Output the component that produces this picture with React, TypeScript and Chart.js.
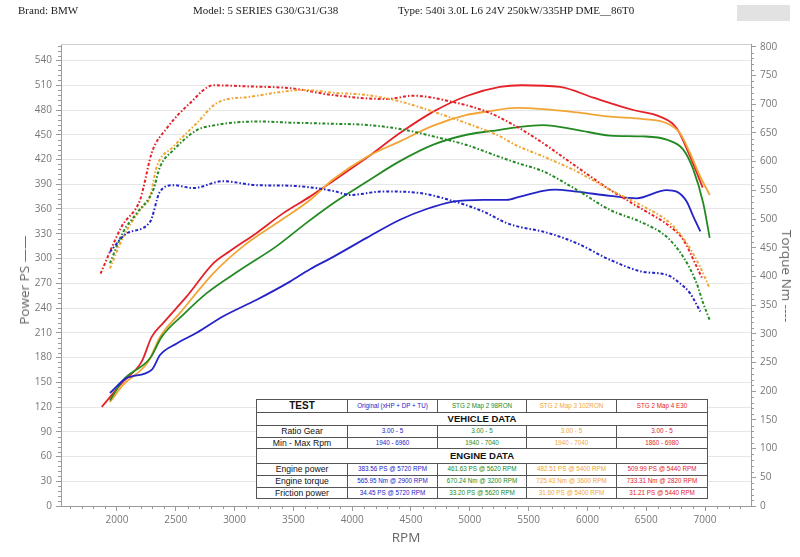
import React, { useEffect, useRef } from "react";
import { Chart, registerables } from "chart.js";

Chart.register(...registerables);

// ---------- data ----------
const xTicks = [2000, 2500, 3000, 3500, 4000, 4500, 5000, 5500, 6000, 6500, 7000];
const powerTicks = [0, 30, 60, 90, 120, 150, 180, 210, 240, 270, 300, 330, 360, 390, 420, 450, 480, 510, 540];
const torqueTicks = [0, 50, 100, 150, 200, 250, 300, 350, 400, 450, 500, 550, 600, 650, 700, 750, 800];

const seriesNames = ["Original (xHP + DP + TU)", "STG 2 Map 2 98RON", "STG 2 Map 3 102RON", "STG 2 Map 4 E30"];

// Original (blue)
const origPowerRpm = [1940, 2082, 2295, 2366, 2508, 2678, 2904, 3188, 3471, 3641, 3839, 4123, 4406, 4633, 4860, 5115, 5314, 5427, 5625, 5720, 5909, 6192, 6419, 6674, 6759, 6844, 6900, 6960];
const origPower = [137, 155, 165, 183, 197, 210, 230, 250, 272, 287, 302, 325, 347, 360, 369, 371, 371, 375, 382, 383.5, 381, 376, 373, 383, 381, 369, 351, 333];
const origTorqueRpm = [1940, 2082, 2281, 2366, 2479, 2649, 2900, 3188, 3471, 3839, 3981, 4264, 4548, 4832, 5115, 5314, 5427, 5625, 5909, 6192, 6475, 6674, 6787, 6872, 6960];
const origTorque = [443, 475, 495, 548, 559, 554, 566, 559, 558, 549, 542, 548, 546, 533, 513, 493, 486, 478, 458, 429, 408, 403, 388, 371, 339];

// STG 2 Map 2 98RON (green)
const map2PowerRpm = [1940, 2054, 2281, 2380, 2564, 2763, 3046, 3358, 3600, 3839, 4123, 4406, 4690, 4973, 5257, 5400, 5620, 5909, 6192, 6475, 6674, 6815, 6900, 6985, 7040];
const map2Power = [128, 153, 179, 205, 232, 258, 286, 315, 342, 367, 393, 418, 438, 450, 456, 459, 461.6, 456, 449, 448, 444, 432, 408, 367, 325];
const map2TorqueRpm = [1940, 2054, 2167, 2309, 2366, 2479, 2678, 2791, 3200, 3471, 3839, 4123, 4406, 4690, 4973, 5257, 5399, 5625, 5909, 6192, 6475, 6674, 6815, 6929, 6985, 7040];
const map2Torque = [423, 478, 510, 551, 591, 620, 655, 662, 670, 668, 666, 664, 657, 644, 629, 608, 598, 583, 551, 516, 493, 469, 434, 388, 353, 324];

// STG 2 Map 3 102RON (orange)
const map3PowerRpm = [1940, 2054, 2266, 2366, 2536, 2819, 3074, 3358, 3641, 3839, 4123, 4406, 4690, 4973, 5144, 5400, 5625, 5909, 6192, 6475, 6674, 6787, 6872, 6957, 7040];
const map3Power = [126, 147, 175, 205, 234, 282, 315, 343, 371, 396, 423, 442, 461, 474, 478, 482.5, 481, 477, 472, 469, 464, 452, 428, 400, 377];
const map3TorqueRpm = [1940, 2054, 2196, 2281, 2338, 2479, 2678, 2848, 3131, 3600, 3839, 4123, 4406, 4690, 4973, 5257, 5399, 5625, 5909, 6192, 6475, 6702, 6844, 6957, 7040];
const map3Torque = [414, 469, 516, 539, 591, 626, 667, 702, 713, 725, 720, 716, 705, 687, 667, 644, 628, 609, 583, 551, 522, 493, 458, 417, 379];

// STG 2 Map 4 E30 (red)
const map4PowerRpm = [1870, 2054, 2210, 2295, 2394, 2593, 2819, 2961, 3188, 3414, 3641, 3839, 4123, 4406, 4690, 4973, 5257, 5440, 5767, 6050, 6390, 6617, 6759, 6872, 6980];
const map4Power = [120, 151, 175, 205, 222, 254, 294, 309, 331, 355, 375, 394, 422, 452, 478, 497, 508, 510, 508, 495, 480, 472, 458, 424, 386];
const map4TorqueRpm = [1860, 2040, 2196, 2224, 2295, 2423, 2621, 2820, 3131, 3471, 3839, 4293, 4519, 4832, 5144, 5399, 5625, 5909, 6192, 6475, 6702, 6815, 6929, 6980];
const map4Torque = [405, 487, 533, 554, 615, 658, 702, 733, 731, 728, 716, 709, 715, 705, 687, 661, 632, 591, 551, 516, 487, 464, 417, 395];

// table texts
const ratioGear = ["3.00 - 5", "3.00 - 5", "3.00 - 5", "3.00 - 5"];
const rpmRange = ["1940 - 6960", "1940 - 7040", "1940 - 7040", "1860 - 6980"];
const enginePower = ["383.56 PS @ 5720 RPM", "461.63 PS @ 5620 RPM", "482.51 PS @ 5400 RPM", "509.99 PS @ 5440 RPM"];
const engineTorque = ["565.95 Nm @ 2900 RPM", "670.24 Nm @ 3200 RPM", "725.43 Nm @ 3600 RPM", "733.31 Nm @ 2820 RPM"];
const frictionPower = ["34.45 PS @ 5720 RPM", "33.20 PS @ 5620 RPM", "31.60 PS @ 5400 RPM", "31.21 PS @ 5440 RPM"];

// ---------- style ----------
const COLORS = ["#2323c8", "#238a23", "#f2a535", "#e42228"];
const AXIS = "#9a9a9a";
const LABEL = "#777";
const TICK_FONT = { family: "'Open Sans', 'DejaVu Sans', sans-serif", size: 10 };
const plain = (v: any) => String(v);

function line(label: string, rpm: number[], vals: number[], color: string, axis: string, dashed: boolean) {
  return {
    label,
    data: rpm.map((r, i) => ({ x: r, y: vals[i] })),
    borderColor: color,
    backgroundColor: color,
    borderWidth: dashed ? 2 : 1.8,
    borderDash: dashed ? [3, 2, 1.5, 2] : [],
    pointRadius: 0,
    yAxisID: axis,
    cubicInterpolationMode: "monotone" as const,
    fill: false,
  };
}

const minorTicks = {
  id: "minorTicks",
  afterDraw(chart: any) {
    const ctx = chart.ctx;
    const { left, right, top, bottom } = chart.chartArea;
    const x = chart.scales.x, yl = chart.scales.yL, yr = chart.scales.yR;
    ctx.save();
    ctx.strokeStyle = "#d0d0d0";
    ctx.lineWidth = 1;
    ctx.beginPath();
    ctx.moveTo(left, top + 0.5);
    ctx.lineTo(right, top + 0.5);
    ctx.stroke();
    ctx.strokeStyle = AXIS;
    ctx.beginPath();
    for (let v = 6; v < 560; v += 6) {
      if (v % 30 === 0) continue;
      const y = Math.round(yl.getPixelForValue(v)) + 0.5;
      ctx.moveTo(left - 3, y);
      ctx.lineTo(left, y);
    }
    for (let v = 10; v < 805; v += 10) {
      if (v % 50 === 0) continue;
      const y = Math.round(yr.getPixelForValue(v)) + 0.5;
      ctx.moveTo(right, y);
      ctx.lineTo(right + 3, y);
    }
    for (let v = 1600; v < 7400; v += 100) {
      if (v % 500 === 0) continue;
      const px = Math.round(x.getPixelForValue(v)) + 0.5;
      ctx.moveTo(px, bottom);
      ctx.lineTo(px, bottom + 3);
    }
    ctx.stroke();
    ctx.restore();
  },
};

export default function App() {
  const ref = useRef<HTMLCanvasElement>(null);

  useEffect(() => {
    if (!ref.current) return;
    const datasets = [
      line(seriesNames[0] + " torque", origTorqueRpm, origTorque, COLORS[0], "yR", true),
      line(seriesNames[1] + " torque", map2TorqueRpm, map2Torque, COLORS[1], "yR", true),
      line(seriesNames[2] + " torque", map3TorqueRpm, map3Torque, COLORS[2], "yR", true),
      line(seriesNames[3] + " torque", map4TorqueRpm, map4Torque, COLORS[3], "yR", true),
      line(seriesNames[0] + " power", origPowerRpm, origPower, COLORS[0], "yL", false),
      line(seriesNames[1] + " power", map2PowerRpm, map2Power, COLORS[1], "yL", false),
      line(seriesNames[2] + " power", map3PowerRpm, map3Power, COLORS[2], "yL", false),
      line(seriesNames[3] + " power", map4PowerRpm, map4Power, COLORS[3], "yL", false),
    ];
    const chart = new Chart(ref.current, {
      type: "line",
      data: { datasets },
      plugins: [minorTicks],
      options: {
        animation: false,
        responsive: false,
        parsing: true,
        layout: { padding: { top: 44, left: 0, right: 0, bottom: 0 } },
        plugins: { legend: { display: false }, tooltip: { enabled: false }, title: { display: false } },
        scales: {
          x: {
            type: "linear",
            min: 1524,
            max: 7391,
            afterBuildTicks: (s: any) => { s.ticks = xTicks.map((v) => ({ value: v })); },
            afterFit: (s: any) => { s.height = 51; },
            grid: { drawOnChartArea: false, drawTicks: true, tickLength: 5, tickColor: AXIS, color: AXIS },
            border: { display: true, color: AXIS },
            ticks: { color: LABEL, font: TICK_FONT, padding: 3, maxRotation: 0, autoSkip: false, callback: plain },
          },
          yL: {
            type: "linear",
            position: "left",
            min: 0,
            max: 560,
            afterBuildTicks: (s: any) => { s.ticks = powerTicks.map((v) => ({ value: v })); },
            afterFit: (s: any) => { s.width = 61; },
            grid: { color: "#e6e6e6", drawTicks: true, tickLength: 5, tickColor: AXIS },
            border: { display: true, color: AXIS },
            ticks: { color: LABEL, font: TICK_FONT, padding: 4, autoSkip: false, callback: plain },
          },
          yR: {
            type: "linear",
            position: "right",
            min: 0,
            max: 805,
            afterBuildTicks: (s: any) => { s.ticks = torqueTicks.map((v) => ({ value: v })); },
            afterFit: (s: any) => { s.width = 49; },
            grid: { drawOnChartArea: false, drawTicks: true, tickLength: 5, tickColor: AXIS },
            border: { display: true, color: AXIS },
            ticks: { color: LABEL, font: TICK_FONT, padding: 4, autoSkip: false, callback: plain },
          },
        },
      } as any,
    });
    return () => chart.destroy();
  }, []);

  const serif = "'Liberation Serif', 'DejaVu Serif', serif";
  const sans = "'Liberation Sans', Arial, sans-serif";
  const titleFont = "'Open Sans', 'DejaVu Sans', sans-serif";
  const bd = "1px solid #555";
  const cell = (extra: any = {}) => ({ border: bd, padding: 0, textAlign: "center" as const, lineHeight: 1, overflow: "hidden", whiteSpace: "nowrap" as const, ...extra });
  const valCell = (i: number) => cell({ color: COLORS[i], fontSize: 6.3 });
  const labCell = cell({ fontSize: 8.6, color: "#111" });
  const rows: [string, string[], number][] = [
    ["Engine power", enginePower, 12],
    ["Engine torque", engineTorque, 12],
    ["Friction power", frictionPower, 11],
  ];

  return (
    <div style={{ position: "absolute", left: 0, top: 0, width: 800, height: 557, background: "#fff", overflow: "hidden" }}>
      <canvas ref={ref} width={800} height={557} style={{ position: "absolute", left: 0, top: 0, width: 800, height: 557 }} />
      <div style={{ position: "absolute", left: 18, top: 4, fontFamily: serif, fontSize: 11, color: "#222", whiteSpace: "nowrap" }}>Brand: BMW</div>
      <div style={{ position: "absolute", left: 193, top: 4, fontFamily: serif, fontSize: 11, color: "#222", whiteSpace: "nowrap" }}>Model: 5 SERIES G30/G31/G38</div>
      <div style={{ position: "absolute", left: 398, top: 4, fontFamily: serif, fontSize: 11, color: "#222", whiteSpace: "nowrap" }}>Type: 540i 3.0L L6 24V 250kW/335HP DME__86T0</div>
      <div style={{ position: "absolute", left: 737, top: 5, width: 53, height: 16, background: "#e2e2e2" }} />
      <div style={{ position: "absolute", left: 24, top: 280, transform: "translate(-50%, -50%) rotate(-90deg)", fontFamily: titleFont, fontSize: 13.5, color: "#666", whiteSpace: "nowrap" }}>Power PS ——</div>
      <div style={{ position: "absolute", left: 787, top: 276, transform: "translate(-50%, -50%) rotate(90deg)", fontFamily: titleFont, fontSize: 13.5, color: "#666", whiteSpace: "nowrap" }}>Torque Nm ----</div>
      <div style={{ position: "absolute", left: 406, top: 537, transform: "translate(-50%, -50%)", fontFamily: titleFont, fontSize: 13.5, color: "#666" }}>RPM</div>
      <table style={{ position: "absolute", left: 256, top: 399, width: 451, borderCollapse: "collapse", tableLayout: "fixed", background: "#fff", fontFamily: sans }}>
        <colgroup>
          <col style={{ width: 91 }} />
          <col style={{ width: 90 }} />
          <col style={{ width: 89 }} />
          <col style={{ width: 90 }} />
          <col style={{ width: 91 }} />
        </colgroup>
        <tbody>
          <tr style={{ height: 13 }}>
            <td style={cell({ fontSize: 10, fontWeight: "bold", color: "#111" })}>TEST</td>
            {seriesNames.map((n, i) => <td key={i} style={valCell(i)}>{n}</td>)}
          </tr>
          <tr style={{ height: 13 }}>
            <td colSpan={5} style={cell({ fontSize: 9.5, fontWeight: "bold", color: "#111" })}>VEHICLE DATA</td>
          </tr>
          <tr style={{ height: 12 }}>
            <td style={labCell}>Ratio Gear</td>
            {ratioGear.map((v, i) => <td key={i} style={valCell(i)}>{v}</td>)}
          </tr>
          <tr style={{ height: 11 }}>
            <td style={labCell}>Min - Max Rpm</td>
            {rpmRange.map((v, i) => <td key={i} style={valCell(i)}>{v}</td>)}
          </tr>
          <tr style={{ height: 15 }}>
            <td colSpan={5} style={cell({ fontSize: 9.5, fontWeight: "bold", color: "#111" })}>ENGINE DATA</td>
          </tr>
          {rows.map(([lab, vals, h]) => (
            <tr key={lab} style={{ height: h }}>
              <td style={labCell}>{lab}</td>
              {vals.map((v, i) => <td key={i} style={valCell(i)}>{v}</td>)}
            </tr>
          ))}
        </tbody>
      </table>
    </div>
  );
}
